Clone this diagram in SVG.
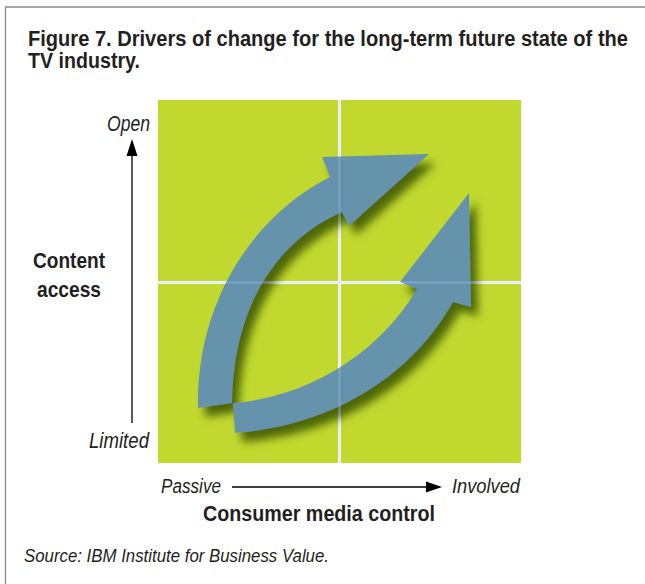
<svg xmlns="http://www.w3.org/2000/svg" width="645" height="584" viewBox="0 0 645 584">
<defs>
<style>
.t{font-family:"Liberation Sans",Arial,sans-serif;fill:#231f20}
.b{font-weight:bold}
.i{font-style:italic}
.arr{fill:#6593ab}
.grid{stroke:#ffffff;stroke-width:3}
.ax{stroke:#000;stroke-width:1.3;fill:none}
</style>
<filter id="sh" x="-20%" y="-20%" width="150%" height="150%">
<feGaussianBlur in="SourceAlpha" stdDeviation="4.5"/>
<feOffset dx="7" dy="9" result="o"/>
<feFlood flood-color="#3a5200" flood-opacity="0.85"/>
<feComposite in2="o" operator="in" result="s"/>
<feMerge><feMergeNode in="s"/><feMergeNode in="SourceGraphic"/></feMerge>
</filter>
</defs>
<rect width="645" height="584" fill="#ffffff"/>
<path d="M5.5,584 V7 H645" fill="none" stroke="#8a8a8a" stroke-width="1.3"/>
<g id="title">
<text class="t b" x="28" y="46" font-size="21.5" textLength="600" lengthAdjust="spacingAndGlyphs">Figure 7. Drivers of change for the long-term future state of the</text>
<text class="t b" x="28" y="68" font-size="21.5" textLength="112" lengthAdjust="spacingAndGlyphs">TV industry.</text>
</g>
<g id="quadrant">
<rect x="158" y="100" width="363" height="363" fill="#c1d92e"/>
<line class="grid" x1="339.5" y1="100" x2="339.5" y2="463"/>
<line class="grid" x1="158" y1="282.5" x2="521" y2="282.5"/>
</g>
<g id="arrows" filter="url(#sh)">
<path id="arrow1" class="arr" d="M198,408 C196,300 255,215 330,177 L322,157 L429,154 L349,226 L342,212 C290,235 234,290 232,403 Z"/>
<path id="arrow2" class="arr" d="M235,433 L233,403 C300,398 375,360 417,289 L400,282 L469,193 L471,307 L453,302 C415,370 340,425 235,433 Z"/>
</g>
<g id="gridover" opacity="0.35">
<line stroke="#a8c4ff" stroke-width="2" x1="339.5" y1="100" x2="339.5" y2="463"/>
<line stroke="#a8c4ff" stroke-width="2" x1="158" y1="282.5" x2="521" y2="282.5"/>
</g>
<g id="yaxis">
<line class="ax" x1="132" y1="423" x2="132" y2="152"/>
<polygon points="132,139 126.5,156 137.5,156" fill="#000"/>
<text class="t i" x="107" y="131" font-size="21.5" textLength="43" lengthAdjust="spacingAndGlyphs">Open</text>
<text class="t i" x="89" y="448" font-size="21.5" textLength="60" lengthAdjust="spacingAndGlyphs">Limited</text>
<text class="t b" x="33" y="268" font-size="22.5" textLength="72" lengthAdjust="spacingAndGlyphs">Content</text>
<text class="t b" x="37" y="297" font-size="22.5" textLength="64" lengthAdjust="spacingAndGlyphs">access</text>
</g>
<g id="xaxis">
<line class="ax" x1="232" y1="487" x2="430" y2="487"/>
<polygon points="442,487 426,481.5 426,492.5" fill="#000"/>
<text class="t i" x="161" y="493" font-size="20" textLength="60" lengthAdjust="spacingAndGlyphs">Passive</text>
<text class="t i" x="452" y="493" font-size="20" textLength="68" lengthAdjust="spacingAndGlyphs">Involved</text>
<text class="t b" x="203" y="521" font-size="22.5" textLength="232" lengthAdjust="spacingAndGlyphs">Consumer media control</text>
</g>
<g id="source">
<text class="t i" x="24" y="562" font-size="19" textLength="305" lengthAdjust="spacingAndGlyphs">Source: IBM Institute for Business Value.</text>
</g>
</svg>
